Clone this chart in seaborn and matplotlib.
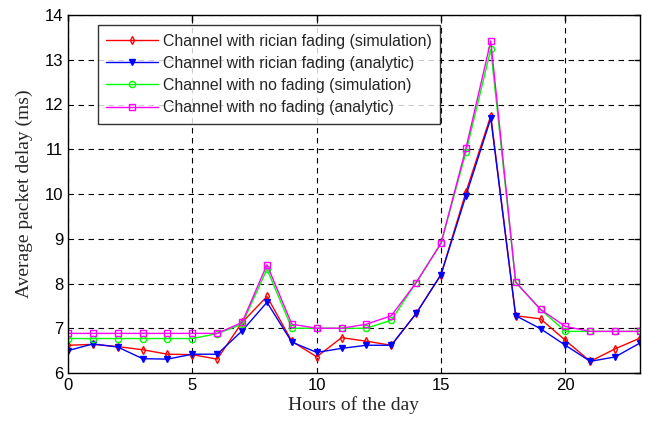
import numpy as np
import pandas as pd
import matplotlib
matplotlib.use("Agg")
import matplotlib.pyplot as plt
import seaborn as sns

hours = list(range(24))
rician_sim = [6.62, 6.64, 6.59, 6.52, 6.42, 6.41, 6.31, 7.13, 7.71, 6.71, 6.36, 6.79,
              6.71, 6.62, 7.33, 8.20, 10.04, 11.75, 7.28, 7.21, 6.73, 6.26, 6.54, 6.78]
rician_ana = [6.50, 6.65, 6.58, 6.32, 6.31, 6.42, 6.42, 6.94, 7.58, 6.69, 6.46, 6.55,
              6.62, 6.62, 7.33, 8.20, 9.96, 11.69, 7.28, 6.99, 6.62, 6.26, 6.36, 6.67]
nofade_sim = [6.77, 6.77, 6.77, 6.77, 6.77, 6.77, 6.88, 7.09, 8.32, 7.00, 7.00, 7.00,
              7.00, 7.18, 8.02, 8.90, 10.93, 13.23, 8.03, 7.42, 6.93, 6.93, 6.93, 6.93]
nofade_ana = [6.885, 6.885, 6.885, 6.885, 6.885, 6.885, 6.885, 7.13, 8.42, 7.09, 7.00, 7.00,
              7.09, 7.28, 8.02, 8.90, 11.02, 13.42, 8.03, 7.42, 7.04, 6.93, 6.93, 6.93]

labels = ["Channel with rician fading (simulation)",
          "Channel with rician fading (analytic)",
          "Channel with no fading (simulation)",
          "Channel with no fading (analytic)"]
series = [rician_sim, rician_ana, nofade_sim, nofade_ana]
colors = ["#ff0000", "#0000ff", "#00ff00", "#ff00ff"]
markers = ["d", "v", "o", "s"]
fills = ["none", "#0000ff", "none", "none"]
msizes = [4, 4, 4.5, 5]

sns.set_style("white")
plt.rcParams['font.family'] = ['Liberation Sans', 'DejaVu Sans']

fig = plt.figure(figsize=(6.55, 4.28), dpi=100)
ax = fig.add_axes([68/655, 1 - 373/428, (640 - 68)/655, (373 - 15)/428])

for lab, vals, c, m, fc, ms in zip(labels, series, colors, markers, fills, msizes):
    df = pd.DataFrame({"hour": hours, "delay": vals})
    sns.lineplot(data=df, x="hour", y="delay", ax=ax, color=c, marker=m,
                 markersize=ms, markerfacecolor=fc, markeredgecolor=c,
                 markeredgewidth=1.0, linewidth=1.0, label=lab)

ax.set_xlim(0, 23)
ax.set_ylim(6, 14)
ax.set_xticks([0, 5, 10, 15, 20])
ax.set_yticks(range(6, 15))
ax.grid(True, color="black", linestyle=(0, (5, 4)), linewidth=0.8)
ax.tick_params(direction="in", top=True, right=True, length=4, width=1,
               labelsize=12, colors="black")
for s in ax.spines.values():
    s.set_color("black")
    s.set_linewidth(1.0)

ax.set_xlabel("Hours of the day", family="Liberation Serif", fontsize=14, labelpad=2)
ax.set_ylabel("Average packet delay (ms)", family="Liberation Serif", fontsize=14, labelpad=8)

leg = ax.legend(loc="upper left", bbox_to_anchor=(0.052, 0.972), fontsize=11.4,
                frameon=True, fancybox=False, handlelength=3.25, handletextpad=0.3,
                borderpad=0.55, labelspacing=0.45, borderaxespad=0)
leg.get_frame().set_edgecolor("black")
leg.get_frame().set_linewidth(1.0)

fig.savefig("out.png", dpi=100)
